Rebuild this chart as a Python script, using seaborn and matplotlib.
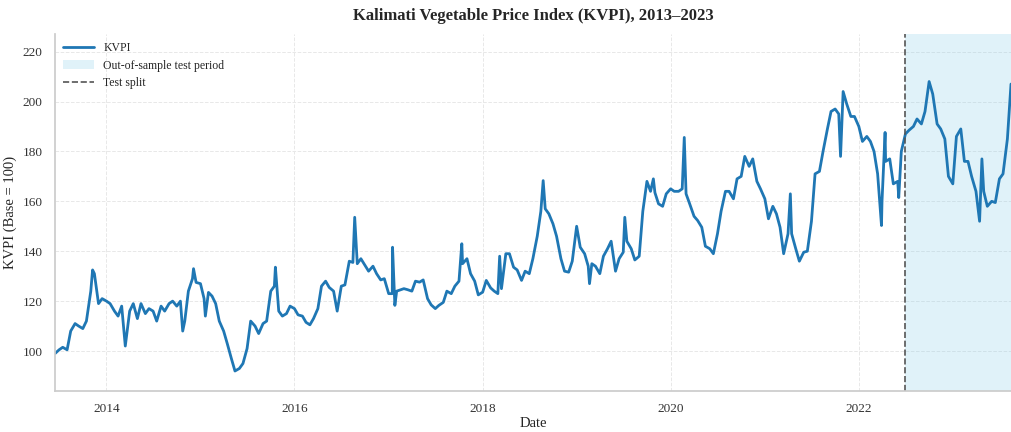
import numpy as np
import pandas as pd
import seaborn as sns
import matplotlib.pyplot as plt
import matplotlib.dates as mdates

# semi-monthly readings (1st and 15th), Jun 2013 - Aug 2023
kvpi_2013 = [99, 100.5, 101.5, 100.5, 108, 111, 110, 109, 112, 124, 131, 119, 121]
kvpi_2014 = [120, 119, 116, 114, 118, 102, 116, 119, 113, 119, 115, 117,
             116, 112, 118, 116, 119, 120, 118, 120, 112, 124, 129, 127.5]
kvpi_2015 = [127, 121, 123.5, 122, 119, 112, 108, 103, 97, 92, 93, 95,
             101, 112, 110, 107, 111, 112, 124, 126, 116, 114, 115, 118]
kvpi_2016 = [117, 114.5, 114, 111.5, 110.5, 113, 117, 126, 128, 125.5, 124, 116,
             126, 126.5, 136, 135.5, 135, 137, 134.3, 132, 134, 131, 128.5, 129]
kvpi_2017 = [123, 123, 124, 124.5, 125, 124.6, 124, 128, 127.6, 128.5, 121, 118.5,
             117, 118.3, 119.5, 124, 123, 126, 128, 135, 137, 131, 128, 122.5]
kvpi_2018 = [123.6, 128.3, 125.3, 124, 123, 125, 139, 139, 133.6, 132.5, 128.3, 132,
             131, 137, 146, 156, 157, 155, 151, 146, 137, 132, 131.6, 136]
kvpi_2019 = [150, 141.6, 139, 134, 135, 134, 131, 138, 141, 144, 132, 137,
             139.6, 144, 141, 136.5, 138, 156, 168, 164, 163.5, 159, 158, 163]
kvpi_2020 = [165, 164, 164, 165, 163, 159, 154, 152.3, 149.6, 142, 141, 139,
             147, 156, 164, 164, 161, 169, 170, 178, 174, 177, 168, 165]
kvpi_2021 = [161, 153, 158, 155, 149.6, 139, 147, 147, 141, 136, 139.6, 140,
             152, 171, 172, 180, 189, 196, 197, 195, 204, 199, 194, 194]
kvpi_2022 = [190, 184, 186, 184, 180, 171, 160, 176, 177, 167, 168, 180,
             187, 188.5, 190, 193, 191, 196, 208, 203, 191, 189, 185, 170]
kvpi_2023 = [167, 186, 189, 176, 176, 170, 164, 152, 164, 158, 160, 159.5,
             169, 171, 185, 207]

# single-day spikes / dips
spike_dates = ["2013-11-08", "2014-10-24", "2014-12-05", "2015-01-20", "2015-10-19",
               "2016-08-22", "2017-01-16", "2017-01-25", "2017-10-12", "2018-03-08",
               "2018-08-24", "2019-02-20", "2019-07-07", "2019-10-26", "2020-02-23",
               "2021-04-10", "2021-10-22", "2022-03-30", "2022-04-13", "2022-06-05",
               "2023-04-24"]
spike_values = [132.5, 108, 133, 114, 133.6, 153.6, 141.6, 118.3, 143, 138,
                168.3, 127, 153.6, 169, 185.6, 163, 178, 150.3, 187.6, 161.5, 177]

split_date = "2022-06-28"

base_vals = (kvpi_2013 + kvpi_2014 + kvpi_2015 + kvpi_2016 + kvpi_2017 + kvpi_2018
             + kvpi_2019 + kvpi_2020 + kvpi_2021 + kvpi_2022 + kvpi_2023)
base_dates = pd.date_range("2013-06-15", "2023-08-15", freq="SMS")

df = pd.concat([
    pd.DataFrame({"Date": base_dates, "KVPI": base_vals}),
    pd.DataFrame({"Date": pd.to_datetime(spike_dates), "KVPI": spike_values}),
]).sort_values("Date").reset_index(drop=True)

sns.set_theme(style="whitegrid")
plt.rcParams['font.family'] = ['Liberation Serif', 'DejaVu Serif']

fig, ax = plt.subplots(figsize=(10.11, 4.32), dpi=100)
fig.subplots_adjust(left=0.0544, right=1.0, bottom=0.095, top=0.921)

sns.lineplot(data=df, x="Date", y="KVPI", ax=ax, color="#1f77b4", lw=2, label="KVPI")
ax.axvspan(pd.Timestamp(split_date), df["Date"].max(), color="#87CEEB", alpha=0.25,
           lw=0, label="Out-of-sample test period")
ax.axvline(pd.Timestamp(split_date), color="#555555", ls="--", lw=1.2, label="Test split")

ax.set_xlim(df["Date"].min(), df["Date"].max())
ax.set_ylim(84, 227)
ax.set_yticks(np.arange(100, 221, 20))
ax.xaxis.set_major_locator(mdates.YearLocator(2))
ax.xaxis.set_major_formatter(mdates.DateFormatter("%Y"))
ax.tick_params(labelsize=9.5, colors="#333333", pad=3)

ax.grid(True, ls="--", color="#e8e8e8", lw=0.7)
for s in ["top", "right"]:
    ax.spines[s].set_visible(False)
for s in ["left", "bottom"]:
    ax.spines[s].set_color("#cccccc")

ax.set_title("Kalimati Vegetable Price Index (KVPI), 2013–2023", fontsize=12,
             fontweight="bold", pad=10)
ax.set_xlabel("Date", fontsize=10.5, labelpad=1)
ax.set_ylabel("KVPI (Base = 100)", fontsize=10.5, labelpad=4)
ax.legend(loc="upper left", frameon=False, fontsize=8.5, handlelength=2.6,
          labelspacing=0.45, borderaxespad=0.3)

plt.savefig("out.png", dpi=100)
